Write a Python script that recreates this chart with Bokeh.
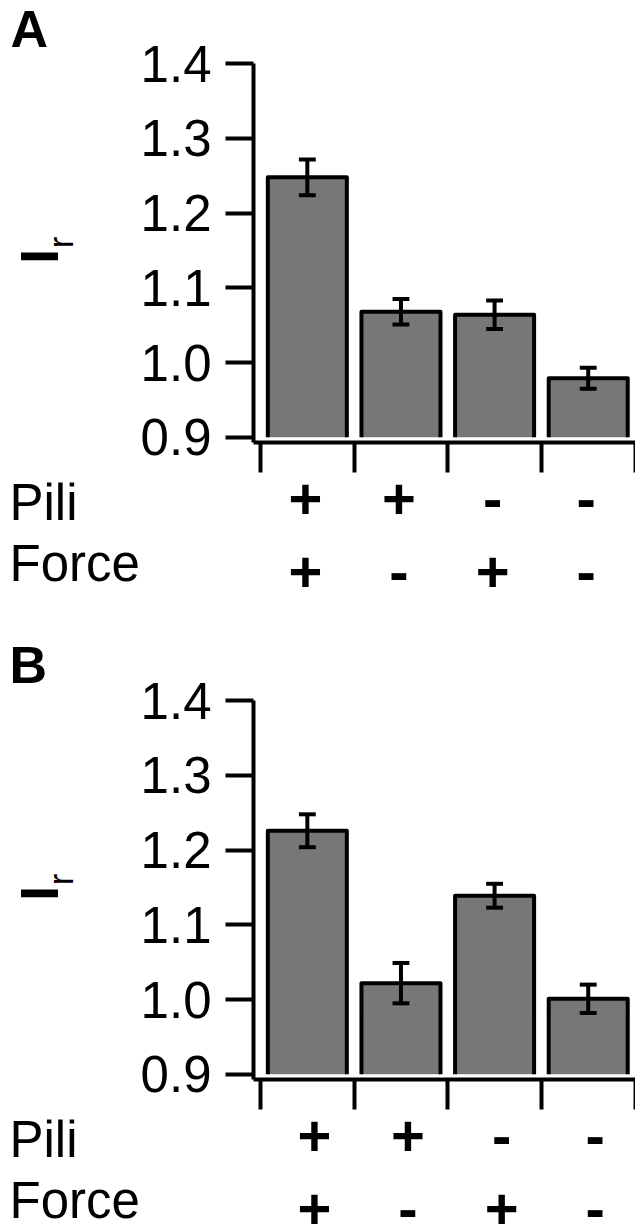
import math
from bokeh.plotting import figure
from bokeh.models import Range1d, FixedTicker
from bokeh.layouts import column, row
from bokeh.core.properties import value
from bokeh.embed import file_html
from bokeh.resources import INLINE

# ---------------- data ----------------
conditions = ["Pili+ Force+", "Pili+ Force-", "Pili- Force+", "Pili- Force-"]
pili = ["+", "+", "-", "-"]
force = ["+", "-", "+", "-"]
row_names = ["Pili", "Force"]
tick_values = [0.9, 1.0, 1.1, 1.2, 1.3, 1.4]
tick_labels = ["0.9", "1.0", "1.1", "1.2", "1.3", "1.4"]
values_a = [1.248, 1.068, 1.064, 0.979]
errors_a = [0.024, 0.017, 0.019, 0.014]
values_b = [1.226, 1.022, 1.139, 1.001]
errors_b = [0.022, 0.027, 0.016, 0.019]
bar_base = 0.9

# ---------------- layout constants ----------------
FONT = "Liberation Sans"
PAGE_W = 635
LEFT_W = 120
FRAME_LEFT = 253
FRAME_BOTTOM = 442        # page y (within a panel) of the x axis
TOP_H = 482
X0, X1 = -0.075, 4.005
Y0, YTICK_TOP = 0.893, 1.4
SY = 747.0                # px per data unit
Y1 = Y0 + FRAME_BOTTOM / SY
SX = (PAGE_W - FRAME_LEFT) / (X1 - X0)
BAR_W = 0.844
CAP_W = 0.18
GRAY = "#777777"


def px_x(px):
    return X0 + (px - FRAME_LEFT) / SX


def bare(width, height, xr, yr, border_bottom=0):
    f = figure(width=width, height=height, output_backend="svg", toolbar_location=None,
               title=None, x_range=xr, y_range=yr,
               x_axis_location=None, y_axis_location=None,
               min_border=0, min_border_left=0, min_border_right=0,
               min_border_top=0, min_border_bottom=border_bottom)
    f.outline_line_color = None
    f.xgrid.visible = False
    f.ygrid.visible = False
    f.background_fill_color = "white"
    f.border_fill_color = "white"
    return f


def text(f, x, y, t, size, bold=False, align="center", angle=0.0):
    f.text(x=x, y=y, text=t, angle=angle,
           text_font=value(FONT), text_font_size=value(size),
           text_font_style="bold" if bold else "normal",
           text_align=align, text_baseline="middle", text_color="black")


def make_panel(letter, values, errors, panel_h, letter_x, letter_mid, sign_shift):
    p = figure(width=PAGE_W - LEFT_W, height=TOP_H, output_backend="svg",
               toolbar_location=None, title=None,
               x_range=Range1d(X0, X1), y_range=Range1d(Y0, Y1),
               min_border_left=FRAME_LEFT - LEFT_W, min_border_right=0,
               min_border_top=0, min_border_bottom=TOP_H - FRAME_BOTTOM)
    p.outline_line_color = None
    p.xgrid.visible = False
    p.ygrid.visible = False
    p.background_fill_color = "white"
    p.border_fill_color = "white"

    centers = [i + 0.5 for i in range(len(values))]
    p.vbar(x=centers, width=BAR_W, bottom=bar_base, top=values,
           fill_color=GRAY, line_color=None)
    xs = [[c - BAR_W / 2, c - BAR_W / 2, c + BAR_W / 2, c + BAR_W / 2] for c in centers]
    ys = [[bar_base, v, v, bar_base] for v in values]
    p.multi_line(xs=xs, ys=ys, line_color="black", line_width=4, line_join="round")

    lo = [v - e for v, e in zip(values, errors)]
    hi = [v + e for v, e in zip(values, errors)]
    p.segment(x0=centers, y0=lo, x1=centers, y1=hi, line_color="black", line_width=4)
    for yy in (lo, hi):
        p.segment(x0=[c - CAP_W / 2 for c in centers], y0=yy,
                  x1=[c + CAP_W / 2 for c in centers], y1=yy,
                  line_color="black", line_width=4)

    ya = p.yaxis[0]
    ya.bounds = (Y0, YTICK_TOP)
    ya.ticker = FixedTicker(ticks=tick_values)
    ya.major_label_overrides = {v: t for v, t in zip(tick_values, tick_labels)}
    ya.major_label_text_font = FONT
    ya.major_label_text_font_size = "51px"
    ya.major_label_text_color = "black"
    ya.major_label_standoff = 14
    ya.major_tick_out = 28
    ya.major_tick_in = 0
    ya.minor_tick_out = 0
    ya.minor_tick_in = 0
    ya.major_tick_line_width = 4
    ya.axis_line_width = 4

    xa = p.xaxis[0]
    xa.ticker = FixedTicker(ticks=list(range(len(values) + 1)))
    xa.major_label_overrides = {i: "" for i in range(len(values) + 1)}
    xa.major_label_text_font_size = "1px"
    xa.major_label_standoff = 0
    xa.major_tick_out = 30
    xa.major_tick_in = 0
    xa.minor_tick_out = 0
    xa.minor_tick_in = 0
    xa.major_tick_line_width = 4
    xa.axis_line_width = 4

    # left strip: data units = page pixels, y negative downward
    lf = bare(LEFT_W, TOP_H, Range1d(0, LEFT_W), Range1d(-FRAME_BOTTOM, 0),
              border_bottom=TOP_H - FRAME_BOTTOM)
    text(lf, [letter_x], [-letter_mid], [letter], "52px", bold=True, align="left")
    text(lf, [39], [-256], ["I"], "53px", bold=True, angle=math.pi / 2)
    text(lf, [59.5], [-242], ["r"], "35px", angle=math.pi / 2)

    # bottom strip: Pili / Force rows
    sf = bare(PAGE_W, panel_h - TOP_H, Range1d(px_x(0), X1), Range1d(-panel_h, -TOP_H))
    sx = [c + sign_shift / SX for c in centers]
    text(sf, [px_x(9), px_x(9)], [-502, -563], row_names, "51px", align="left")
    text(sf, sx, [-498] * len(centers), pili, "58px", bold=True)
    text(sf, sx, [-571.5] * len(centers), force, "58px", bold=True)

    return column(row(lf, p, spacing=0), sf, spacing=0)


panel_a = make_panel("A", values_a, errors_a, panel_h=637, letter_x=10, letter_mid=28,
                     sign_shift=-2)
panel_b = make_panel("B", values_b, errors_b, panel_h=587, letter_x=9, letter_mid=27,
                     sign_shift=7)

layout = column(panel_a, panel_b, spacing=0)
open("out.html", "w").write(file_html(layout, INLINE))
